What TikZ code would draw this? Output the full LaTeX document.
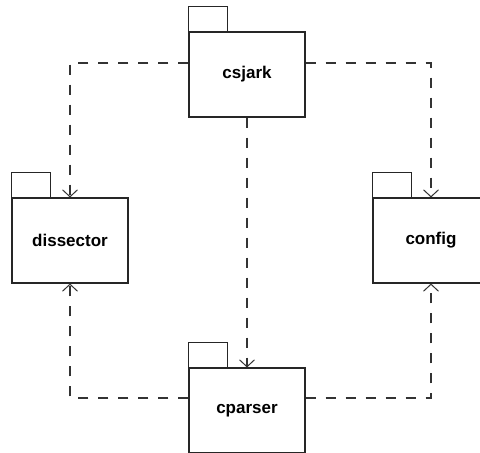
\documentclass[tikz,border=0pt]{standalone}
\usepackage{fontspec}
\setmainfont{Liberation Sans}
\usetikzlibrary{arrows.meta}

\tikzset{
	package/.style={draw=black!85, line width=1.1pt, fill=white, minimum width=116pt, minimum height=85pt, inner sep=0pt, font=\fontsize{17}{17}\selectfont\bfseries},
	tab/.style={draw=black!85, line width=1.1pt},
	dep/.style={draw=black!80, line width=1.1pt, dash pattern=on 10.5pt off 9.5pt, -{Straight Barb[length=7pt,width=15pt,line width=1pt]}}
}

\begin{document}
\begin{tikzpicture}[x=1pt, y=-1pt]
		%%%%% START %%%%%
		\useasboundingbox (0, 0) rectangle (480, 453);
		\clip (0, 0) rectangle (480, 453);
		
		\node[package] (csjark) at (247, 74.5) {csjark};
		\node[package] (dissector) at (70, 240.5) {dissector};
		\node[package] (config) at (431, 240.5) {config};
		\node[package] (cparser) at (247, 410.5) {cparser};
		
		% tabs on top of the packages
		\foreach \p in {csjark, dissector, config, cparser}
			\draw[tab] (\p.north west) rectangle ++(39, -25);
		
		\draw[dep] ([yshift=11.5pt]csjark.west) -| (dissector.north);
		\draw[dep] ([yshift=11.5pt]csjark.east) -| (config.north);
		\draw[dep] (csjark.south) -- (cparser.north);
		
		\draw[dep] ([yshift=12.5pt]cparser.west) -| (dissector.south);
		\draw[dep] ([yshift=12.5pt]cparser.east) -| (config.south);
		
		%%%%% END %%%%%
\end{tikzpicture}
\end{document}
